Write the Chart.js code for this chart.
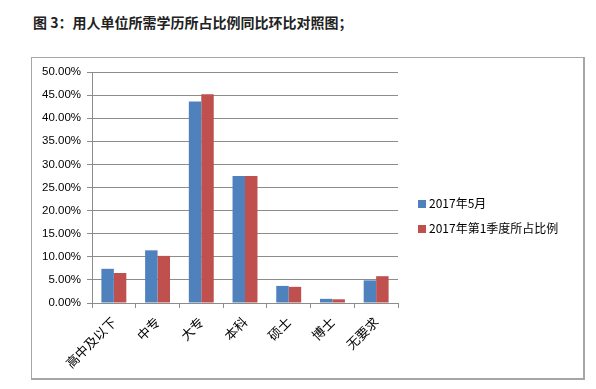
<!DOCTYPE html>
<html>
<head>
<meta charset="utf-8">
<script src="https://cdn.jsdelivr.net/npm/chart.js@4"></script>
<style>
  body { margin: 0; background: #fff; width: 596px; height: 389px; position: relative; font-family: "Noto Sans CJK SC", sans-serif; }
  #title { position: absolute; left: 33px; top: 12px; font-size: 14px; font-weight: bold; color: #222; white-space: nowrap; }
  #box { position: absolute; left: 31px; top: 57px; width: 551px; height: 320px; border: 1px solid #a6a6a6; border-right-width: 2px; border-bottom-width: 2px; }
  #legend { position: absolute; left: 386px; top: 137px; font-size: 12px; color: #000; }
  #legend div { height: 25px; line-height: 16px; white-space: nowrap; }
  #legend span { display: inline-block; width: 8px; height: 8px; margin-right: 3px; vertical-align: 0px; }
</style>
</head>
<body>
<div id="title">图 3：用人单位所需学历所占比例同比环比对照图；</div>
<div id="box"><canvas id="chart" width="551" height="320"></canvas><div id="legend"></div></div>
<script>
// categories
var categories = ["高中及以下", "中专", "大专", "本科", "硕士", "博士", "无要求"];
// series
var seriesNames = ["2017年5月", "2017年第1季度所占比例"];
var may2017 = [0.074, 0.114, 0.436, 0.275, 0.037, 0.009, 0.049];
var q1_2017 = [0.065, 0.102, 0.452, 0.275, 0.035, 0.008, 0.058];
var colors = ["#4F81BD", "#C0504D"];

var ctx = document.getElementById("chart");
var chart = new Chart(ctx, {
    type: "bar",
    data: {
        labels: categories,
        datasets: [
            { label: seriesNames[0], data: may2017, backgroundColor: colors[0] },
            { label: seriesNames[1], data: q1_2017, backgroundColor: colors[1] }
        ]
    },
    options: {
        responsive: false,
        animation: false,
        datasets: { bar: { categoryPercentage: 0.57, barPercentage: 1 } },
        layout: { padding: { top: 14, right: 185, left: 0, bottom: 0 } },
        plugins: {
            legend: { display: false },
            tooltip: { enabled: false }
        },
        scales: {
            y: {
                min: 0, max: 0.5,
                afterFit: function (scale) { scale.width = 60; },
                ticks: {
                    stepSize: 0.05,
                    padding: 6,
                    color: "#000",
                    font: { family: "Liberation Sans", size: 11.5 },
                    callback: function (v) { return (v * 100).toFixed(2) + "%"; }
                },
                grid: { color: "#8c8c8c", tickLength: 5, tickColor: "#8c8c8c" },
                border: { color: "#8c8c8c" }
            },
            x: {
                afterFit: function (scale) { scale.height = 75; },
                ticks: {
                    minRotation: 45, maxRotation: 45,
                    padding: 6,
                    color: "#000",
                    font: { family: "Noto Sans CJK SC", size: 13 }
                },
                grid: { drawOnChartArea: false, offset: true, tickLength: 5, color: "#8c8c8c" },
                border: { color: "#8c8c8c" }
            }
        }
    }
});

// legend built from the datasets
var legend = document.getElementById("legend");
chart.data.datasets.forEach(function (ds) {
    var row = document.createElement("div");
    var sw = document.createElement("span");
    sw.style.background = ds.backgroundColor;
    row.appendChild(sw);
    row.appendChild(document.createTextNode(ds.label));
    legend.appendChild(row);
});
</script>
</body>
</html>
